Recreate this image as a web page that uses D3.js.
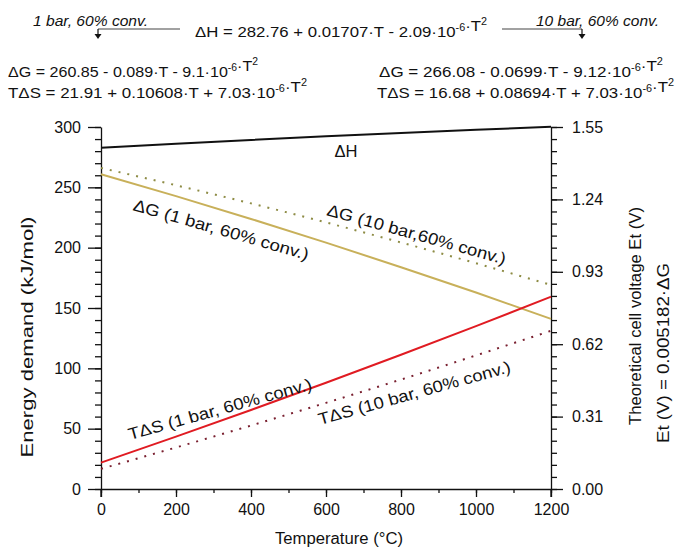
<!DOCTYPE html>
<meta charset="utf-8">
<script src="https://cdnjs.cloudflare.com/ajax/libs/d3/7.8.5/d3.min.js"></script>
<style>
body { margin: 0; background: #fff; }
text { font-family: Arial, "Liberation Sans", sans-serif; fill: #111; }
.axis path, .axis line { stroke: #111; stroke-width: 1.3px; }
.axis text { font-size: 16px; font-family: Arial, "Liberation Sans", sans-serif; fill: #111; }
</style>
<body>
<script>
// values (T in °C, energies in kJ/mol)
var temps = [0, 200, 400, 600, 800, 1000, 1200];
var dH    = [282.8, 286.1, 289.3, 292.3, 295.1, 297.7, 300.2];
var dG1   = [260.9, 242.7, 223.8, 204.2, 183.8, 162.8, 141.0];
var dG10  = [266.1, 251.7, 236.7, 220.9, 204.3, 187.1, 169.1];
var tdS1  = [21.9, 43.4, 65.5, 88.1, 111.3, 135.0, 159.3];
var tdS10 = [16.7, 34.4, 52.6, 71.4, 90.7, 110.7, 131.1];

var xTicks = [0, 200, 400, 600, 800, 1000, 1200];
var yTicks = [0, 50, 100, 150, 200, 250, 300];
var vTicks = [0, 0.31, 0.62, 0.93, 1.24, 1.55];

var width = 677, height = 547;
var svg = d3.select("body").append("svg")
    .attr("width", width)
    .attr("height", height);

var x = d3.scaleLinear().domain([0, 1200]).range([101, 551]);
var y = d3.scaleLinear().domain([0, 300]).range([489, 127]);
var yv = d3.scaleLinear().domain([0, 1.55]).range([489, 127]);

// stretch a text to the width it has in the picture (the original font runs wider)
function fit(sel, len) {
  return sel.attr("textLength", len).attr("lengthAdjust", "spacingAndGlyphs");
}

// minor ticks first
svg.append("g").attr("class", "axis")
    .attr("transform", "translate(101,0)")
    .call(d3.axisLeft(y).tickValues(d3.range(0, 301, 10)).tickSize(6).tickFormat(""))
    .select(".domain").remove();
svg.append("g").attr("class", "axis")
    .attr("transform", "translate(551,0)")
    .call(d3.axisRight(yv).tickValues(d3.range(0, 31).map(function(i) { return i * 1.55 / 30; })).tickSize(6).tickFormat(""))
    .select(".domain").remove();
svg.append("g").attr("class", "axis")
    .attr("transform", "translate(0,489)")
    .call(d3.axisBottom(x).tickValues(d3.range(0, 1201, 100)).tickSize(4).tickFormat(""))
    .select(".domain").remove();

// major
svg.append("g").attr("class", "axis")
    .attr("transform", "translate(101,0)")
    .call(d3.axisLeft(y).tickValues(yTicks).tickSize(13).tickSizeOuter(0).tickPadding(7));
svg.append("g").attr("class", "axis")
    .attr("transform", "translate(551,0)")
    .call(d3.axisRight(yv).tickValues(vTicks).tickSize(12).tickSizeOuter(0).tickPadding(9).tickFormat(d3.format(".2f")));
svg.append("g").attr("class", "axis")
    .attr("transform", "translate(0,489)")
    .call(d3.axisBottom(x).tickValues(xTicks).tickSize(8).tickSizeOuter(0).tickPadding(7).tickFormat(d3.format("d")));

// axes extend a little below the bottom line
svg.append("line").attr("x1", 101).attr("x2", 101).attr("y1", 489).attr("y2", 497).attr("stroke", "#111").attr("stroke-width", 1.3);
svg.append("line").attr("x1", 551).attr("x2", 551).attr("y1", 489).attr("y2", 497).attr("stroke", "#111").attr("stroke-width", 1.3);

var line = function(vals) {
  return d3.line()
    .x(function(d, i) { return x(temps[i]); })
    .y(function(d) { return y(d); })
    .curve(d3.curveMonotoneX)(vals);
};

svg.append("path").attr("d", line(dG10)).attr("fill", "none")
    .attr("stroke", "#8e8c45").attr("stroke-width", 2).attr("stroke-dasharray", "2,7");
svg.append("path").attr("d", line(tdS10)).attr("fill", "none")
    .attr("stroke", "#7a2030").attr("stroke-width", 2).attr("stroke-dasharray", "2,7");
svg.append("path").attr("d", line(dG1)).attr("fill", "none")
    .attr("stroke", "#c8b05a").attr("stroke-width", 2);
svg.append("path").attr("d", line(tdS1)).attr("fill", "none")
    .attr("stroke", "#e01b22").attr("stroke-width", 2);
svg.append("path").attr("d", line(dH)).attr("fill", "none")
    .attr("stroke", "#111").attr("stroke-width", 2);

// curve labels
var curveLabels = [
  {t: 653, v: 275.1, a: 0, txt: "\u0394H", anchor: "middle", len: 23},
  {t: 83, v: 231.2, a: 16, txt: "\u0394G (1 bar, 60% conv.)", anchor: "start", len: 182},
  {t: 600, v: 227, a: 15.5, txt: "\u0394G (10 bar,60% conv.)", anchor: "start", len: 185},
  {t: 77, v: 40.6, a: -15.5, txt: "T\u0394S (1 bar, 60% conv.)", anchor: "start", len: 190},
  {t: 584, v: 53, a: -15.5, txt: "T\u0394S (10 bar, 60% conv.)", anchor: "start", len: 199}
];
svg.selectAll(".clabel").data(curveLabels).enter().append("text")
    .attr("class", "clabel")
    .attr("transform", function(d) { return "translate(" + x(d.t) + "," + y(d.v) + ")rotate(" + d.a + ")"; })
    .attr("text-anchor", function(d) { return d.anchor; })
    .attr("textLength", function(d) { return d.len; })
    .attr("lengthAdjust", "spacingAndGlyphs")
    .style("font-size", "16.5px")
    .text(function(d) { return d.txt; });

// axis titles
fit(svg.append("text")
    .attr("transform", "translate(33,337)rotate(-90)")
    .attr("text-anchor", "middle")
    .style("font-size", "16.5px")
    .text("Energy demand (kJ/mol)"), 241);
fit(svg.append("text")
    .attr("transform", "translate(641,316)rotate(-90)")
    .attr("text-anchor", "middle")
    .style("font-size", "16px")
    .text("Theoretical cell voltage Et (V)"), 218);
fit(svg.append("text")
    .attr("transform", "translate(669,353)rotate(-90)")
    .attr("text-anchor", "middle")
    .style("font-size", "16px")
    .text("Et (V) = 0.005182\u00b7\u0394G"), 180);
fit(svg.append("text")
    .attr("x", 339).attr("y", 544)
    .attr("text-anchor", "middle")
    .style("font-size", "16px")
    .text("Temperature (\u00b0C)"), 128);

// formulas at top
function formula(px, py, parts, len) {
  var t = svg.append("text").attr("x", px).attr("y", py).style("font-size", "15.5px");
  parts.forEach(function(p) {
    if (typeof p === "object") {
      t.append("tspan").attr("dy", -6).style("font-size", "10px").text(p.sup);
      t.append("tspan").attr("dy", 6).text("");
    } else {
      t.append("tspan").text(p);
    }
  });
  return fit(t, len);
}
formula(195, 37, ["\u0394H = 282.76 + 0.01707\u00b7T - 2.09\u00b710", {sup: "-6"}, "\u00b7T", {sup: "2"}], 292);
formula(8, 77, ["\u0394G = 260.85 - 0.089\u00b7T - 9.1\u00b710", {sup: "-6"}, "\u00b7T", {sup: "2"}], 250);
formula(8, 98, ["T\u0394S = 21.91 + 0.10608\u00b7T + 7.03\u00b710", {sup: "-6"}, "\u00b7T", {sup: "2"}], 299);
formula(379, 77, ["\u0394G = 266.08 - 0.0699\u00b7T - 9.12\u00b710", {sup: "-6"}, "\u00b7T", {sup: "2"}], 284);
formula(377, 98, ["T\u0394S = 16.68 + 0.08694\u00b7T + 7.03\u00b710", {sup: "-6"}, "\u00b7T", {sup: "2"}], 297);

// condition notes with arrows
var notes = [
  {tx: 33, txt: "1 bar, 60% conv.", x1: 98, x2: 180, ax: 98, len: 115},
  {tx: 536, txt: "10 bar, 60% conv.", x1: 502, x2: 582, ax: 582, len: 123}
];
notes.forEach(function(n) {
  fit(svg.append("text").attr("x", n.tx).attr("y", 26)
      .style("font-size", "14px").style("font-style", "italic")
      .text(n.txt), n.len);
  svg.append("line").attr("x1", n.x1).attr("x2", n.x2).attr("y1", 29).attr("y2", 29)
      .attr("stroke", "#444").attr("stroke-width", 1.2);
  svg.append("line").attr("x1", n.ax).attr("x2", n.ax).attr("y1", 29).attr("y2", 34)
      .attr("stroke", "#111").attr("stroke-width", 1.2);
  svg.append("path").attr("d", "M" + (n.ax - 3.5) + ",34L" + (n.ax + 3.5) + ",34L" + n.ax + ",39Z")
      .attr("fill", "#111");
});
</script>
</body>
</html>
